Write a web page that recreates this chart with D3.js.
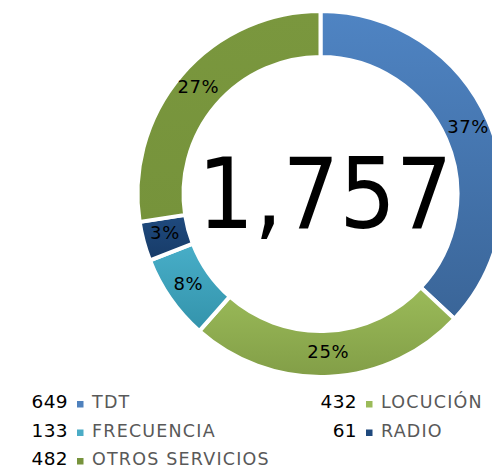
<!DOCTYPE html>
<html>
<head>
<meta charset="utf-8">
<script src="https://cdn.jsdelivr.net/npm/d3@7"></script>
<style>
  body { margin: 0; background: #fff; }
  svg { display: block; font-family: "DejaVu Sans", sans-serif; }
</style>
</head>
<body>
<svg width="492" height="469"></svg>
<script>
const categories = ["TDT", "LOCUCIÓN", "FRECUENCIA", "RADIO", "OTROS SERVICIOS"];
const values = [649, 432, 133, 61, 482];
const pctLabels = ["37%", "25%", "8%", "3%", "27%"];
const totalLabel = "1,757";

const colorTop = ["#4f84c3", "#9bbb59", "#48aec8", "#1f4a7e", "#7a973e"];
const colorBottom = ["#3a6598", "#829e47", "#3393ab", "#173b68", "#76933b"];
const swatch = ["#4f81bd", "#9bbb59", "#4bacc6", "#1f497d", "#77933c"];

const width = 492, height = 469;
const cx = 320.5, cy = 194;
const outer = 183, inner = 137;

const svg = d3.select("svg").attr("viewBox", [0, 0, width, height]);

const data = categories.map((c, i) => ({ name: c, value: values[i], pct: pctLabels[i], i }));

const defs = svg.append("defs");
data.forEach(d => {
  const g = defs.append("linearGradient")
    .attr("id", "grad" + d.i)
    .attr("x1", 0).attr("y1", 0).attr("x2", 0).attr("y2", 1);
  g.append("stop").attr("offset", "0%").attr("stop-color", colorTop[d.i]);
  g.append("stop").attr("offset", "100%").attr("stop-color", colorBottom[d.i]);
});

const pie = d3.pie().value(d => d.value).sort(null);
const arc = d3.arc().innerRadius(inner).outerRadius(outer);
const labelArc = d3.arc().innerRadius(161).outerRadius(161);

const chart = svg.append("g").attr("transform", `translate(${cx},${cy})`);
const arcs = pie(data);

chart.selectAll("path")
  .data(arcs)
  .join("path")
  .attr("d", arc)
  .attr("fill", d => `url(#grad${d.data.i})`)
  .attr("stroke", "#fff")
  .attr("stroke-width", 4)
  .attr("stroke-linejoin", "miter");

// total in the middle (drawn first so the % labels sit on top)
svg.insert("text", "g")
  .attr("x", 325)
  .attr("y", 228)
  .attr("text-anchor", "middle")
  .attr("font-size", 98)
  .attr("textLength", 255)
  .attr("lengthAdjust", "spacingAndGlyphs")
  .attr("fill", "#000")
  .text(totalLabel);

chart.selectAll("text.pct")
  .data(arcs)
  .join("text")
  .attr("class", "pct")
  .attr("transform", d => {
    const [x, y] = labelArc.centroid(d);
    return `translate(${x},${y - 3})`;
  })
  .attr("text-anchor", "middle")
  .attr("dy", "0.36em")
  .attr("font-size", 18)
  .attr("letter-spacing", 0.6)
  .attr("fill", "#000")
  .text(d => d.data.pct);

// legend
const legendPos = [
  { nx: 68, row: 0 }, { nx: 357, row: 0 },
  { nx: 68, row: 1 }, { nx: 357, row: 1 },
  { nx: 68, row: 2 }
];
const rowY = d3.scaleLinear().domain([0, 2]).range([408, 465]);

const legend = svg.append("g")
  .selectAll("g")
  .data(data)
  .join("g")
  .attr("transform", d => `translate(${legendPos[d.i].nx},${rowY(legendPos[d.i].row)})`);

legend.append("text")
  .attr("text-anchor", "end")
  .attr("font-size", 18.5)
  .attr("letter-spacing", 0.4)
  .attr("fill", "#000")
  .text(d => d.value);

legend.append("rect")
  .attr("x", 9)
  .attr("y", -7)
  .attr("width", 6.5)
  .attr("height", 6.5)
  .attr("fill", d => swatch[d.i]);

legend.append("text")
  .attr("x", 24)
  .attr("font-size", 17.5)
  .attr("letter-spacing", 1.2)
  .attr("fill", "#595959")
  .text(d => d.name);
</script>
</body>
</html>
